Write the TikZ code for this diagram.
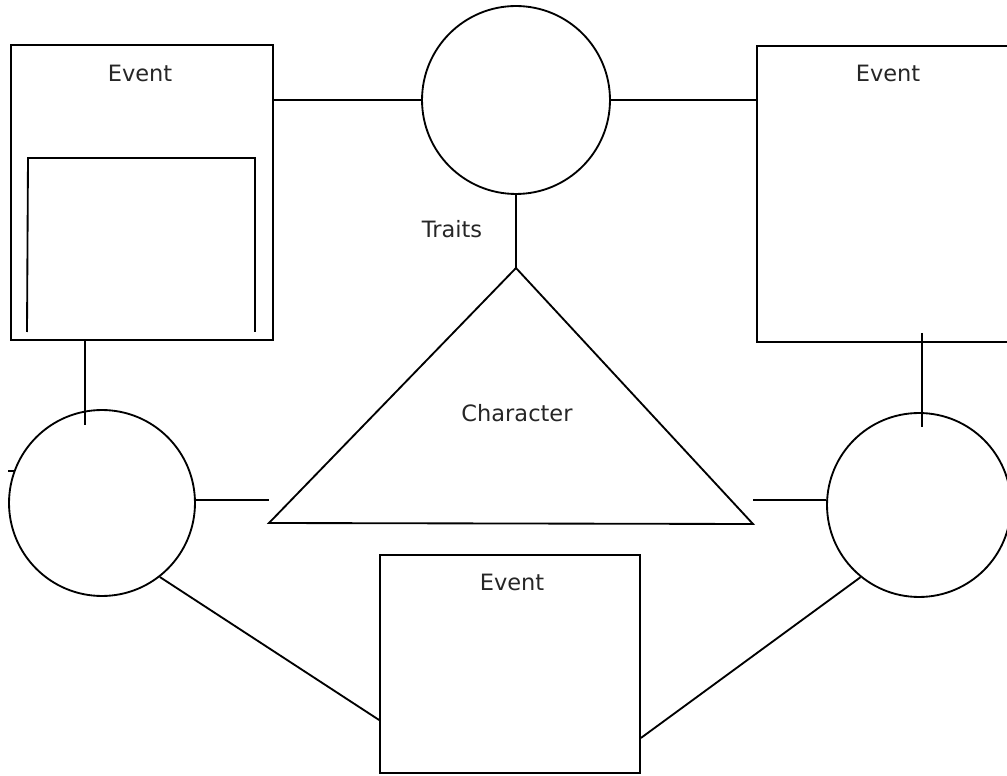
\documentclass[tikz,border=0pt]{standalone}
\usepackage{fontspec}
\setmainfont{DejaVu Sans}
\tikzset{
  eventbox/.style={draw, rectangle, inner sep=0pt},
  blob/.style={draw, circle, inner sep=0pt},
  lbl/.style={font=\fontsize{12.8}{15}\selectfont, inner sep=0pt, text=black!85},
}
\begin{document}
\begin{tikzpicture}[x=0.02cm, y=-0.02cm, line width=1.05pt]
            \useasboundingbox (0,0) rectangle (1007,776) ;
            \clip (0,0) rectangle (1007,776) ;
            % events
            \draw (142,192.5) node[eventbox, minimum width=5.24cm, minimum height=5.9cm](ev1){} ;
            \draw (908.5,194) node[eventbox, minimum width=6.06cm, minimum height=5.92cm](ev2){} ;
            \draw (510,664) node[eventbox, minimum width=5.2cm, minimum height=4.36cm](ev3){} ;
            \draw (140,73) node[lbl](ev1t){Event} ;
            \draw (888,73) node[lbl](ev2t){Event} ;
            \draw (512,582) node[lbl](ev3t){Event} ;
            \draw (27,332) -- (28,158) -- (255,158) -- (255,332) ;
            % circles
            \draw (516,100) node[blob, minimum size=3.76cm](top){} ;
            \draw (102,503) node[blob, minimum size=3.72cm](left){} ;
            \draw (919,505) node[blob, minimum size=3.68cm](right){} ;
            % character
            \coordinate (apex) at (516,268) ;
            \coordinate (triL) at (269,523) ;
            \coordinate (triR) at (753,524) ;
            \draw (apex) -- (triL) -- (triR) -- cycle ;
            \draw (517,413) node[lbl](chr){Character} ;
            \draw (452,229) node[lbl](trt){Traits} ;
            % lines
            \coordinate (lc) at (85,425) ;
            \coordinate (rt) at (922,333) ;
            \coordinate (rc) at (922,427) ;
            \coordinate (tl) at (269,500) ;
            \coordinate (tr) at (753,500) ;
            \draw (ev1.east |- top.west) -- (top.west) ;
            \draw (top.east) -- (ev2.west |- top.east) ;
            \draw (top.south) -- (apex) ;
            \draw (lc |- ev1.south) -- (lc) ;
            \draw (rt) -- (rc) ;
            \draw (tl -| left.east) -- (tl) ;
            \draw (tr) -- (right.west |- tr) ;
            \draw (left.-52) -- ([yshift=-1.12cm]ev3.west) ;
            \draw ([yshift=-1.48cm]ev3.east) -- (right.-129) ;
            \draw (left.160) -- ++(-6,0) ;
        \end{tikzpicture}
\end{document}
